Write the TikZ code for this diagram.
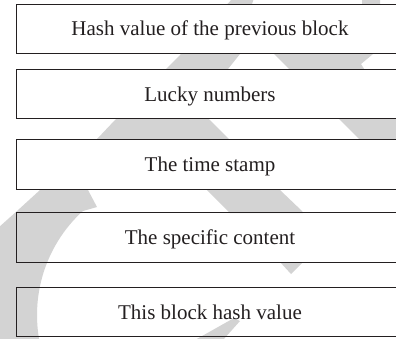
\documentclass[tikz,border=0pt]{standalone}
\usepackage{fontspec}
\setmainfont{Liberation Serif}
\definecolor{wmgray}{RGB}{211,211,211}
\definecolor{ink}{RGB}{35,31,32}
\begin{document}
\begin{tikzpicture}[x=1pt,y=-1pt,
  field/.style={draw=ink, line width=1pt, minimum width=388pt, minimum height=49.5pt,
    inner sep=0pt, text height=16pt, text depth=2pt,
    font=\fontsize{21}{25}\selectfont, text=ink},
  solid field/.style={field, fill=white},
  wm/.style={fill=wmgray, draw=none}]
\useasboundingbox (0,0) rectangle (396,338);

% faint watermark behind the fields
\fill[wm] (233,-2) -- (254,-2) -- (252,4) -- (240,54) -- (228,69) -- (190,100)
  -- (210,120) -- (229,139) -- (280,190) -- (302,211) -- (303,213) -- (230,213)
  -- (207,190) -- (160,143) -- (130,150) -- (88,190) -- (97,207) -- (83,211)
  -- plot[domain=47.6:-10.2, samples=30] ({178-141*cos(\x)},{315-141*sin(\x)})
  -- (38,342) -- (-2,342) -- (-2,228) -- (17,211) -- (40,190) -- (62,170)
  -- (97,139) -- (115,120) -- (180,55) -- cycle;
\fill[wm] (280,262) -- (303,262) -- (291,274) -- cycle;
\fill[wm] (362,-2) -- (380,-2) -- (380,30) -- (373,54) -- (361,64) -- (366,72)
  -- (410,72) -- (410,165) -- (385,165) -- (274,54) -- (330,20) -- (362,4.5) -- cycle;
\fill[wm] (234,318) -- (240,321) -- (223,340) -- (195,340) -- cycle;

% block fields, top to bottom
\node[solid field] (prev)    at (210,28.75) {Hash value of the previous block};
\node[solid field] (nonce)   at (210,94)    {Lucky numbers};
\node[solid field] (stamp)   at (210,164.5) {The time stamp};
\node[field]       (content) at (210,237.5) {The specific content};
\node[field]       (own)     at (210,312)   {This block hash value};
\end{tikzpicture}
\end{document}
